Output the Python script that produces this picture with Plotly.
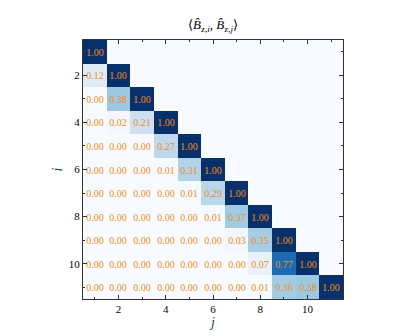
import plotly.graph_objects as go

# lower-triangular correlation matrix, rows i = 1..11, cols j = 1..i
rows = [
	[1.00],
	[0.12, 1.00],
	[0.00, 0.38, 1.00],
	[0.00, 0.02, 0.21, 1.00],
	[0.00, 0.00, 0.00, 0.27, 1.00],
	[0.00, 0.00, 0.00, 0.01, 0.31, 1.00],
	[0.00, 0.00, 0.00, 0.00, 0.01, 0.29, 1.00],
	[0.00, 0.00, 0.00, 0.00, 0.00, 0.01, 0.37, 1.00],
	[0.00, 0.00, 0.00, 0.00, 0.00, 0.00, 0.03, 0.35, 1.00],
	[0.00, 0.00, 0.00, 0.00, 0.00, 0.00, 0.00, 0.07, 0.77, 1.00],
	[0.00, 0.00, 0.00, 0.00, 0.00, 0.00, 0.00, 0.01, 0.36, 0.38, 1.00],
]
idx = list(range(1, 12))
tick_vals = [2, 4, 6, 8, 10]

n = len(idx)
z = []
text = []
for r in rows:
	z.append(r + [0.0] * (n - len(r)))
	text.append(["%.2f" % v for v in r] + [""] * (n - len(r)))

serif = "Liberation Serif"

fig = go.Figure()
fig.add_trace(
	go.Heatmap(
		x=idx,
		y=idx,
		z=z,
		text=text,
		texttemplate="%{text}",
		textfont=dict(color="#f08c1a", size=10, family=serif),
		colorscale="Blues",
		zmin=0,
		zmax=1,
		showscale=False,
	))

axis_common = dict(
	showline=True,
	linecolor="#333",
	linewidth=1,
	mirror="allticks",
	ticks="inside",
	ticklen=4,
	tickcolor="#333",
	tickvals=tick_vals,
	showgrid=False,
	zeroline=False,
	automargin=False,
	tickfont=dict(family=serif, size=11, color="black"),
	minor=dict(ticks="inside", ticklen=2, dtick=1, tick0=1, tickcolor="#333", showgrid=False),
)

fig.update_xaxes(range=[0.5, 11.5], title=dict(text="<i>j</i>", font=dict(family=serif, size=14), standoff=0), **axis_common)
fig.update_yaxes(range=[11.5, 0.5], title=dict(text="<i>i</i>", font=dict(family=serif, size=14), standoff=2), **axis_common)

# page body has an 8px margin, so the figure is a bit smaller than the window
fig.update_layout(
	width=407,
	height=328,
	margin=dict(l=75, r=72, t=32, b=37),
	plot_bgcolor="white",
	paper_bgcolor="white",
	title=dict(
		text="⟨<i>B̂</i><sub>z,<i>i</i></sub>, <i>B̂</i><sub>z,<i>j</i></sub>⟩",
		x=0.5,
		xanchor="center",
		xref="paper",
		yref="container",
		y=0.935,
		yanchor="bottom",
		font=dict(family=serif, size=13, color="black"),
	),
)

fig.write_html("out.html")
